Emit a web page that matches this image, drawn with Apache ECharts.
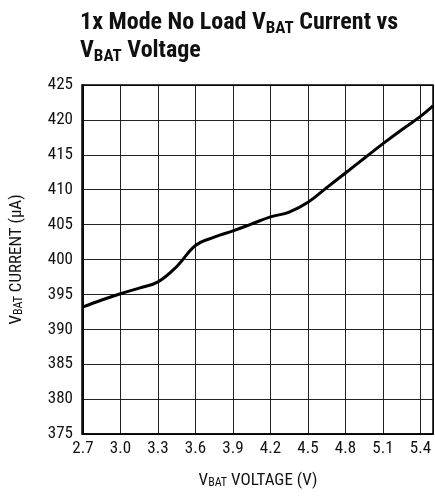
<!DOCTYPE html>
<html><head><meta charset="utf-8">
<script src="https://cdn.jsdelivr.net/npm/echarts@6/dist/echarts.min.js"></script>
<style>html,body{margin:0;padding:0;background:#fff}#c{width:435px;height:497px}</style>
</head><body><div id="c"></div>
<script>
const voltage = [2.7, 2.85, 3.0, 3.15, 3.3, 3.45, 3.6, 3.75, 3.9, 4.05, 4.2, 4.35, 4.5, 4.65, 4.8, 4.95, 5.1, 5.25, 5.4, 5.5];
const current = [393.2, 394.2, 395.1, 395.9, 396.8, 399.0, 402.0, 403.2, 404.1, 405.1, 406.1, 406.8, 408.2, 410.3, 412.4, 414.5, 416.6, 418.6, 420.5, 422.0];
const xMin = 2.7, xMax = 5.5, xStep = 0.3;
const yMin = 375, yMax = 425, yStep = 5;

const FONT = '"Liberation Sans Narrow", "Roboto Condensed", "Liberation Sans", sans-serif';
const chart = echarts.init(document.getElementById('c'));
chart.setOption({
  animation: false,
  title: {
    text: '1x Mode No Load V{sub|BAT} Current vs\nV{sub|BAT} Voltage',
    left: 75, top: 4,
    textStyle: {
      fontFamily: FONT, fontWeight: 'bold', fontSize: 24, color: '#111', lineHeight: 28,
      rich: { sub: { fontFamily: FONT, fontWeight: 'bold', fontSize: 17, color: '#111', verticalAlign: 'bottom', lineHeight: 22 } }
    }
  },
  grid: { left: 82, right: 2, top: 85, bottom: 63, containLabel: false },
  xAxis: {
    type: 'value', min: xMin, max: xMax, interval: xStep,
    name: 'V{sub|BAT} VOLTAGE (V)', nameLocation: 'middle', nameGap: 38,
    nameTextStyle: { fontFamily: FONT, fontSize: 17, color: '#111',
      rich: { sub: { fontFamily: FONT, fontSize: 12, color: '#111', verticalAlign: 'bottom', lineHeight: 16 } } },
    axisLine: { show: true, lineStyle: { color: '#000', width: 1.5 } },
    axisTick: { show: false },
    axisLabel: { fontFamily: FONT, fontSize: 17, color: '#111', margin: 6, showMaxLabel: false,
      formatter: v => v.toFixed(1) },
    splitLine: { show: true, lineStyle: { color: '#222', width: 1 } }
  },
  yAxis: {
    type: 'value', min: yMin, max: yMax, interval: yStep,
    name: 'V{sub|BAT} CURRENT (µA)', nameLocation: 'middle', nameGap: 58, nameRotate: 90,
    nameTextStyle: { fontFamily: FONT, fontSize: 17, color: '#111',
      rich: { sub: { fontFamily: FONT, fontSize: 12, color: '#111', verticalAlign: 'bottom', lineHeight: 16 } } },
    axisLine: { show: true, lineStyle: { color: '#000', width: 1.5 } },
    axisTick: { show: false },
    axisLabel: { fontFamily: FONT, fontSize: 17, color: '#111', margin: 10 },
    splitLine: { show: true, lineStyle: { color: '#222', width: 1 } }
  },
  series: [{
    type: 'line', data: voltage.map((v, i) => [v, current[i]]),
    smooth: 0.4, showSymbol: false, symbol: 'none',
    lineStyle: { color: '#000', width: 3 }
  }],
  graphic: [{
    type: 'rect', shape: { x: 82, y: 85, width: 351, height: 349 },
    style: { fill: 'none', stroke: '#000', lineWidth: 1.5 }, silent: true, z: 10
  }]
});
</script></body></html>
